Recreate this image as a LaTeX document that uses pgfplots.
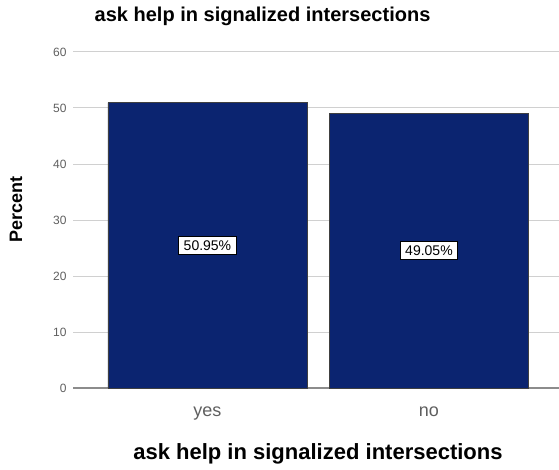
\documentclass[border=0pt]{standalone}
\usepackage{pgfplots}
\pgfplotsset{compat=1.18}
\usepackage{fontspec}
\setmainfont{Liberation Sans}
\definecolor{barblue}{RGB}{11,36,112}
\definecolor{gridgray}{RGB}{208,208,208}
\definecolor{ticktext}{RGB}{95,95,95}
\begin{document}
\begin{tikzpicture}[x=1pt,y=1pt]
\useasboundingbox (0,0) rectangle (559,469);
\begin{axis}[
  at={(73pt,81pt)}, anchor=south west,
  scale only axis, width=486pt, height=336pt,
  xmin=-0.607, xmax=1.587,
  ymin=0, ymax=60,
  ytick={10,20,...,60},
  extra y ticks={0},
  extra y tick style={grid style={black!45, line width=1.6pt}},
  xtick={0,1}, xticklabels={yes,no},
  axis line style={draw=none},
  major tick length=0pt,
  ymajorgrids, grid style={gridgray, line width=1pt},
  /pgf/number format/assume math mode=true,
  yticklabel style={font=\fontsize{12}{12}\selectfont, text=ticktext, xshift=-3pt},
  xticklabel style={font=\fontsize{18}{18}\selectfont, text=ticktext, yshift=-15pt},
  title={ask help in signalized intersections},
  title style={at={(axis description cs:0.39,1.072)}, anchor=base,
    font=\fontsize{20}{24}\selectfont\bfseries},
  xlabel={ask help in signalized intersections},
  xlabel style={at={(axis description cs:0.504,-0.212)}, anchor=base,
    font=\fontsize{22}{26}\selectfont\bfseries},
  ylabel={Percent},
  ylabel style={at={(axis description cs:-0.117,0.53)}, anchor=center, rotate=0,
    font=\fontsize{18}{22}\selectfont\bfseries},
]
\addplot[ybar, bar width=199pt, fill=barblue, draw=black!75, line width=0.8pt,
  visualization depends on={rawy \as \rawy},
  nodes near coords={\pgfmathprintnumber[fixed,fixed zerofill,precision=2]{\pgfplotspointmeta}\%},
  every node near coord/.append style={anchor=center,
    shift={(axis direction cs:0,-\rawy/2)},
    fill=white, draw=black, line width=0.7pt, text=black,
    inner xsep=5pt, inner ysep=4pt,
    font=\fontsize{14}{14}\selectfont},
] coordinates {(0,50.95) (1,49.05)};
\end{axis}
\end{tikzpicture}
\end{document}
